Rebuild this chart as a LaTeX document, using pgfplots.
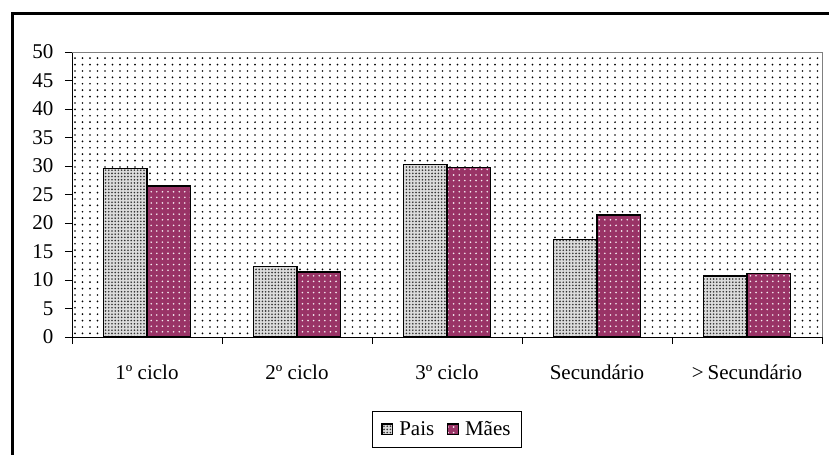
\documentclass[border=0pt]{standalone}
\usepackage{fontspec}
\setmainfont{Liberation Serif}
\usepackage{pgfplots}
\pgfplotsset{compat=1.18}
\usetikzlibrary{patterns.meta}
\definecolor{maes}{HTML}{993366}
\definecolor{paisfill}{HTML}{DCDCDC}

\tikzdeclarepattern{name=bgdots, type=uncolored,
  bounding box={(-1bp,-1bp) and (1bp,1bp)},
  tile size={(7.5bp,6.4bp)},
  code={\fill (0bp,0bp) circle (0.95bp);}}
\tikzdeclarepattern{name=paisdots, type=uncolored,
  bounding box={(-1bp,-1bp) and (1bp,1bp)},
  tile size={(3.2bp,3.2bp)},
  code={\fill (0bp,0bp) circle (0.9bp);}}
\tikzdeclarepattern{name=maesdots, type=uncolored,
  bounding box={(-1bp,-1bp) and (1bp,1bp)},
  tile size={(5.6bp,5.6bp)},
  code={\fill (0bp,0bp) circle (0.9bp);}}

\newcommand{\lblfont}{\fontsize{21bp}{24bp}\selectfont}

\begin{document}
\begin{tikzpicture}
\useasboundingbox (-72bp,-118bp) rectangle (757bp,337bp);
\begin{axis}[
  at={(0,0)}, anchor=south west,
  scale only axis, width=750bp, height=285bp,
  xmin=-0.5, xmax=4.5, ymin=0, ymax=50,
  ybar=0pt, bar width=43.3bp,
  axis x line*=bottom, axis y line*=left,
  axis line style={black, line width=0.9bp},
  axis background/.style={fill=white, postaction={pattern=bgdots, pattern color=black}},
  tick align=outside, major tick length=7bp,
  tick style={black, line width=0.8bp},
  xtick={-0.5,0.5,1.5,2.5,3.5,4.5},
  xticklabels={,,,,,},
  extra x ticks={0,1,2,3,4},
  extra x tick labels={1º ciclo,2º ciclo,3º ciclo,Secundário,>\hspace{4bp}Secundário},
  extra x tick style={major tick length=0pt,
     xticklabel style={font=\lblfont, text height=14bp, text depth=4bp, yshift=-25bp}},
  ytick={0,5,...,50},
  yticklabel style={font=\lblfont, xshift=-8bp},
  /pgf/number format/assume math mode=true,
  legend style={at={(0.5,-0.26)}, anchor=north, legend columns=2,
     draw=black, line width=0.8bp, font=\lblfont, inner xsep=9bp, inner ysep=8bp,
     /tikz/every odd column/.append style={column sep=4bp},
     /tikz/every even column/.append style={column sep=11bp}},
  legend cell align=left,
  legsq/.style={legend image code/.code={\draw[##1] (0bp,-5.3bp) rectangle (10.6bp,5.3bp);}},
  after end axis/.code={\draw[black!50, line width=0.8bp] (rel axis cs:0,1) -- (rel axis cs:1,1) -- (rel axis cs:1,0);},
]
\addplot[draw=black, line width=1.2bp, preaction={fill=paisfill}, pattern=paisdots, pattern color=black!80, legsq]
  coordinates {(0,29.6) (1,12.3) (2,30.2) (3,17.1) (4,10.7)};
\addplot[draw=black, line width=1.2bp, preaction={fill=maes}, pattern=maesdots, pattern color=white!90!maes, legsq]
  coordinates {(0,26.5) (1,11.4) (2,29.8) (3,21.4) (4,11.1)};
\legend{Pais, Mães}
\end{axis}
\draw[line width=3bp, black] (-59.5bp,-140bp) -- (-59.5bp,323.2bp) -- (800bp,323.2bp);
\end{tikzpicture}
\end{document}
